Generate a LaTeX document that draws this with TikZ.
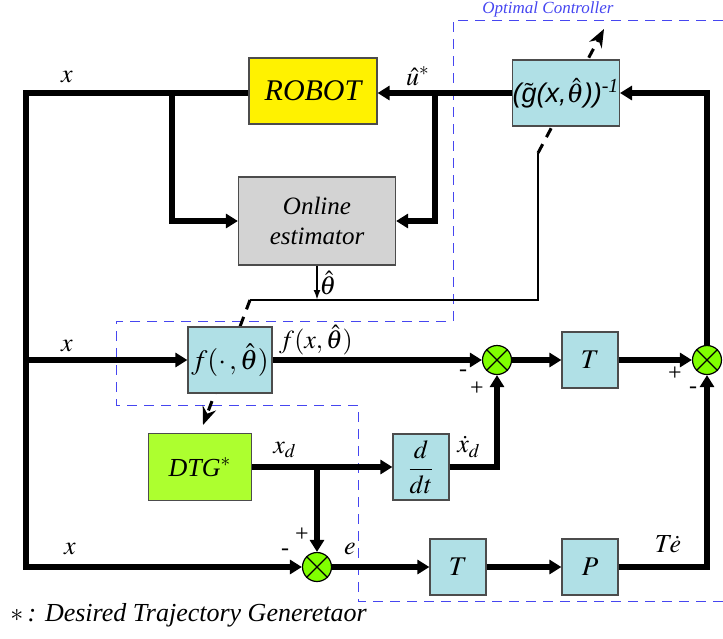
\documentclass[tikz,border=0pt]{standalone}
\usepackage{mathptmx}
\usepackage[no-math]{fontspec}
\setmainfont{Liberation Serif}
\newfontfamily\gfont{Liberation Sans}
\usetikzlibrary{arrows.meta}

\definecolor{boxblue}{RGB}{176,224,230}
\definecolor{sumgreen}{RGB}{128,255,0}
\definecolor{dtggreen}{RGB}{173,255,47}
\definecolor{estgray}{RGB}{211,211,211}
\definecolor{ctrlblue}{RGB}{70,70,240}

\begin{document}
\begin{tikzpicture}[x=0.5pt,y=-0.5pt,>={Triangle[length=6pt,width=7pt]},
  block/.style={rectangle,draw=black!70,line width=0.6pt,fill=boxblue,inner sep=0pt,minimum width=28pt,minimum height=28pt},
  sum node/.style={circle,draw=black,line width=0.6pt,fill=sumgreen,minimum size=14.5pt,inner sep=0pt},
  signal/.style={line width=3pt,->},
  label text/.style={font=\fontsize{13}{15}\selectfont,inner sep=1pt},
  sign text/.style={font=\fontsize{12}{14}\selectfont,inner sep=0pt}]

	      \useasboundingbox (0,0) rectangle (723,638);

	      % optimal controller region
	      \draw[ctrlblue,line width=0.5pt,dash pattern=on 5pt off 3.5pt] (723,20) -- (453,20) -- (453,321) -- (116,321) -- (116,405) -- (358,405) -- (358,601) -- (723,601);
	      \node[font=\fontsize{8.5}{10}\selectfont\itshape,text=ctrlblue,inner sep=0pt] at (548,9) (lopt) {Optimal Controller};

	      % tuning of the parameter estimate
	      \coordinate (thl) at (250,300);
	      \coordinate (thr) at (538,300);
	      \coordinate (thup) at (538,153);
	      \coordinate (ftip) at (203,425);
	      \coordinate (gtip) at (604,29);
	      \draw[line width=1.5pt,dash pattern=on 5pt off 4pt,-{Stealth[length=9pt,width=7pt]}] (thl) -- (ftip);
	      \draw[line width=1.5pt,dash pattern=on 5pt off 4pt,-{Stealth[length=9pt,width=7pt]}] (thup) -- (gtip);

	      \node[block,fill=yellow,minimum width=64pt,minimum height=33pt,font=\fontsize{15}{17}\selectfont\itshape] at (313,91) (robot) {ROBOT};
	      \node[block,fill=estgray,minimum width=78.5pt,minimum height=44pt,align=center,font=\fontsize{12.5}{15}\selectfont\itshape] at (317,221) (est) {Online\\estimator};
	      \node[block,minimum width=52pt,minimum height=33pt,font=\fontsize{13.5}{15}\selectfont] at (566,93) (g) {{\gfont\itshape(}$\tilde{\mbox{\gfont\itshape g}}${\gfont\itshape(x,}$\hat{\theta}${\gfont\itshape))}\textsuperscript{\textit{-1}}};
	      \node[block,minimum width=42pt,minimum height=33pt,font=\fontsize{14}{16}\selectfont] at (230,360) (f) {$f(\cdot\,,\hat{\theta})$};
	      \node[block,fill=dtggreen,minimum width=51.5pt,minimum height=33.5pt,font=\fontsize{13}{15}\selectfont] at (200,467) (dtg) {\textit{DTG}$^{*}$};
	      \node[block,minimum height=33pt,font=\fontsize{13}{15}\selectfont] at (421,467) (ddt) {$\displaystyle\frac{d}{dt}$};
	      \node[block,font=\fontsize{13.5}{15}\selectfont] at (590,360) (T1) {$T$};
	      \node[block,font=\fontsize{13.5}{15}\selectfont] at (458,567) (T2) {$T$};
	      \node[block,font=\fontsize{13.5}{15}\selectfont] at (590,567) (P) {$P$};
	      \node[sum node] at (497,360) (s1) {};
	      \node[sum node] at (707,360) (s2) {};
	      \node[sum node] at (317,567) (s3) {};
	      \foreach \s in {s1,s2,s3}
	        \draw[line width=0.6pt] (\s.north east) -- (\s.south west) (\s.north west) -- (\s.south east);

	      % signals
	      \coordinate (ubr) at (435,93);
	      \coordinate (xbr) at (172,93);
	      \coordinate (xtop) at (26,93);
	      \coordinate (xmid) at (26,360);
	      \coordinate (xbot) at (26,567);
	      \coordinate (xdbr) at (317,467);

	      \draw[signal] (g.west) -- (robot.east |- g.west);
	      \draw[signal] (ubr) |- (est.east);
	      \draw[signal] (robot.west |- xtop) -- (xtop) -- (xbot) -- (s3.west);
	      \draw[signal] (xbr) |- (est.west);
	      \draw[signal] (xmid) -- (f.west);
	      \draw[signal] (f.east) -- (s1.west);
	      \draw[signal] (s1.east) -- (T1.west);
	      \draw[signal] (T1.east) -- (s2.west);
	      \draw[signal] (s2.north) |- (g.east);
	      \draw[signal] (dtg.east) -- (ddt.west);
	      \draw[signal] (xdbr) -- (s3.north);
	      \draw[signal] (ddt.east) -| (s1.south);
	      \draw[signal] (s3.east) -- (T2.west);
	      \draw[signal] (T2.east) -- (P.west);
	      \draw[signal] (P.east) -| (s2.south);
	      \draw[line width=1pt] (thl) -- (thr) -- (thup);
	      \draw[line width=1pt,-{Latex[length=5pt,width=3.5pt]}] (est.south) -- (est.south |- thl);

	      % labels
	      \node[label text] at (67,77) (lx1) {$x$};
	      \node[label text] at (418,76) (lu) {$\hat{u}^{*}$};
	      \node[label text] at (328,283) (lth) {$\hat{\theta}$};
	      \node[label text] at (67,346) (lx2) {$x$};
	      \node[label text] at (316,340) (lf) {$f(x,\hat{\theta})$};
	      \node[label text] at (285,450) (lxd) {$x_{d}$};
	      \node[label text] at (469,447) (lxdd) {$\dot{x}_{d}$};
	      \node[label text] at (70,549) (lx3) {$x$};
	      \node[label text] at (350,549) (le) {$e$};
	      \node[label text] at (668,544) (lte) {$T\!\dot{e}$};
	      \node[sign text] at (463,373) (m1) {-};
	      \node[sign text] at (477,389) (p1) {+};
	      \node[sign text] at (675,374) (p2) {+};
	      \node[sign text] at (693,390) (m2) {-};
	      \node[sign text] at (302,535) (p3) {+};
	      \node[sign text] at (285,552) (m3) {-};
	      \node[label text,anchor=west] at (8,615) (foot) {$\ast$\,\textit{: Desired Trajectory Generetaor}};

	    \end{tikzpicture}
\end{document}
